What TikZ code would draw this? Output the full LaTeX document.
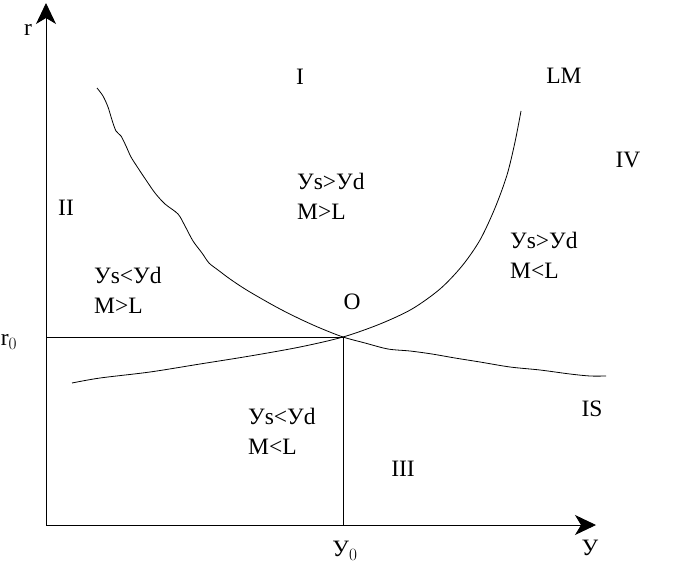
\documentclass[tikz,border=0pt]{standalone}
\usepackage{fontspec}
\setmainfont{Liberation Serif}
\usetikzlibrary{arrows.meta}
\begin{document}
\begin{tikzpicture}[x=1pt,y=-1pt,
  lbl/.style={inner sep=0pt,font=\fontsize{23.5}{28}\selectfont},
  blk/.style={inner sep=0pt,align=left,anchor=north west,font=\fontsize{23.5}{30}\selectfont},
  axis/.style={line width=0.9pt,-{Stealth[length=21pt,width=20pt,inset=6pt]}},
  thin/.style={line width=0.8pt},
  curve/.style={line width=0.8pt,smooth}]
\useasboundingbox (0,0) rectangle (700,575);
% axes
\coordinate (org) at (46,525);
\coordinate (ytop) at (46,3);
\coordinate (xend) at (596,525);
\draw[axis] (org) -- (ytop);
\draw[axis] (org) -- (xend);
% equilibrium
\coordinate (O) at (343,337);
\coordinate (r0p) at (46,337);
\coordinate (y0p) at (343,525);
\draw[thin] (r0p) -- (O) -- (y0p);
% IS curve
\draw[curve] plot coordinates {(97,88) (103,96) (108,107) (112,120) (116,131) (121,136) (126,146) (131,157) (138,168) (146,180) (155,193) (165,204) (178,214) (185,226) (193,241) (202,253) (209,263) (218,270) (230,279) (245,289) (262,299) (280,309) (300,319) (320,328) (343,337) (365,343) (388,349) (410,351) (432,354) (455,358) (480,362) (510,367) (540,370) (570,374) (590,376) (606,376)};
% LM curve
\draw[curve] plot coordinates {(72,383) (100,378) (150,372) (200,364) (250,356) (300,347) (343,337) (380,324) (412,309) (440,289) (462,266) (480,240) (495,208) (507,175) (515,142) (521,111)};
% labels
\node[lbl] (r) at (28,30) {r};
\node[lbl] (r0) at (9,342) {r$_0$};
\node[lbl] (y0) at (345,551) {У$_0$};
\node[lbl] (y) at (590,548) {У};
\node[lbl] (I) at (300,77) {I};
\node[lbl] (LM) at (564,76) {LM};
\node[lbl] (IV) at (628,160) {IV};
\node[lbl] (II) at (66,208) {II};
\node[lbl] (Olbl) at (352,302) {O};
\node[lbl] (IS) at (592,409) {IS};
\node[lbl] (III) at (403,469) {III};
\node[blk] (q1) at (297,173) {Уs>Уd\\M>L};
\node[blk] (q4) at (510,232) {Уs>Уd\\M<L};
\node[blk] (q2) at (94,267) {Уs<Уd\\M>L};
\node[blk] (q3) at (248,408) {Уs<Уd\\M<L};
\end{tikzpicture}
\end{document}
